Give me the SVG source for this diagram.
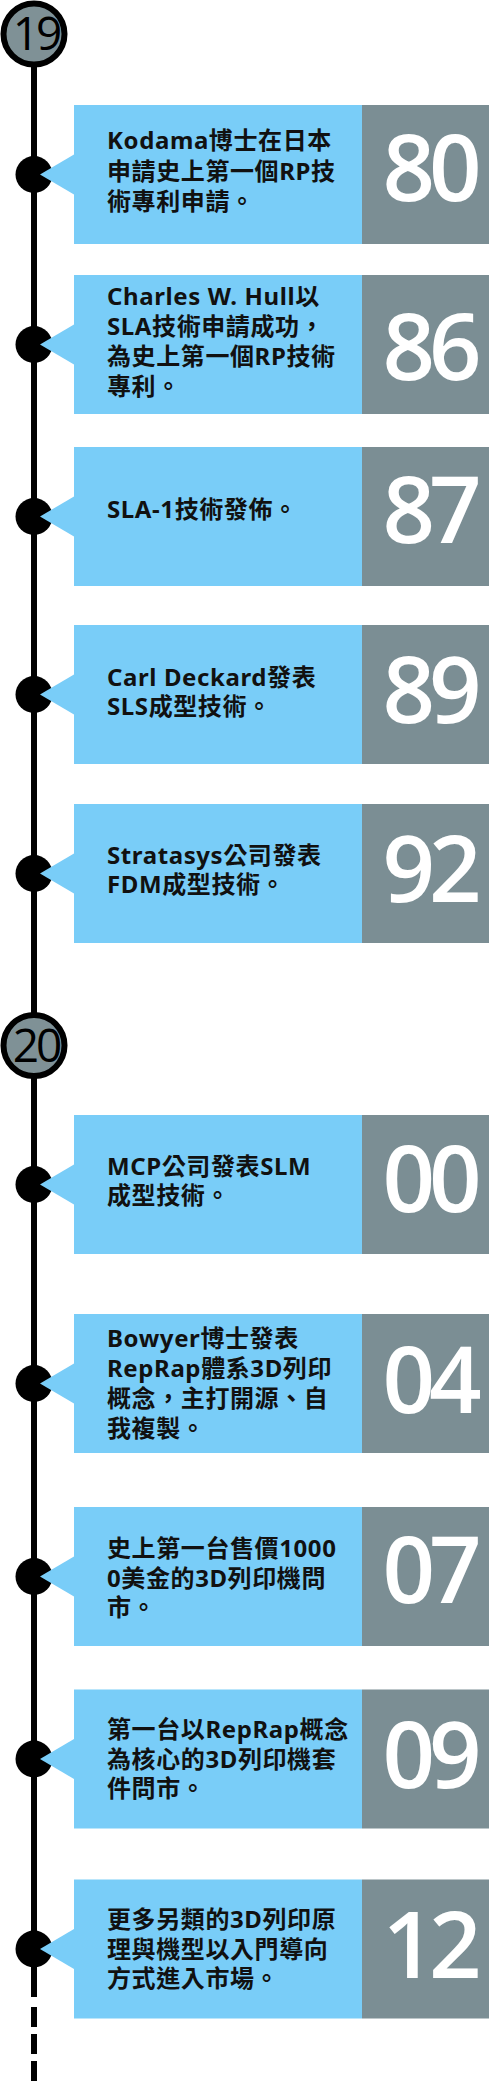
<svg xmlns="http://www.w3.org/2000/svg" width="494" height="2093" viewBox="0 0 494 2093">
<style>
.blue{fill:#79cdf8}
.gray{fill:#7b8e94}
.dot{fill:#000}
.t{font-family:"Noto Sans","Noto Sans CJK TC",sans-serif;font-weight:700;font-size:24px;letter-spacing:0.6px;fill:#111}
.yr{font-family:"Open Sans","Noto Sans",sans-serif;font-weight:600;font-size:92px;fill:#fff;text-anchor:middle;letter-spacing:-6px}
.era circle{fill:#7f9196;stroke:#000;stroke-width:6}
.era text{font-family:"Open Sans","Noto Sans",sans-serif;font-size:46px;fill:#000;text-anchor:middle;letter-spacing:-3px}
</style>
<defs>
<g id="node">
<circle class="dot" cx="34" cy="0" r="18.5"/>
<rect class="blue" x="74" y="-69.5" width="288" height="139"/>
<polygon class="blue" points="74,-20 40,0 74,20"/>
<rect class="gray" x="362" y="-69.5" width="127" height="139"/>
</g>
</defs>
<g id="connectors">
<line x1="34" y1="40" x2="34" y2="1997" stroke="#000" stroke-width="6"/>
<line x1="34" y1="2007" x2="34" y2="2085" stroke="#000" stroke-width="6" stroke-dasharray="20 7"/>
</g>
<g id="era19" class="era"><circle cx="34" cy="34" r="30.5"/><text x="36" y="50">19</text></g>
<g id="era20" class="era"><circle cx="34" cy="1045.5" r="30.5"/><text x="36" y="1062">20</text></g>

<g id="y80"><use href="#node" y="174.5"/>
<text class="t" x="107"><tspan x="107" y="149">Kodama博士在日本</tspan><tspan x="107" y="180">申請史上第一個RP技</tspan><tspan x="107" y="210">術專利申請。</tspan></text>
<text class="yr" x="429" y="201">80</text></g>

<g id="y86"><use href="#node" y="344.5"/>
<text class="t"><tspan x="107" y="305">Charles W. Hull以</tspan><tspan x="107" y="335">SLA技術申請成功，</tspan><tspan x="107" y="365">為史上第一個RP技術</tspan><tspan x="107" y="395">專利。</tspan></text>
<text class="yr" x="429" y="380">86</text></g>

<g id="y87"><use href="#node" y="516.5"/>
<text class="t" x="107" y="518">SLA-1技術發佈。</text>
<text class="yr" x="429" y="543">87</text></g>

<g id="y89"><use href="#node" y="694.5"/>
<text class="t"><tspan x="107" y="686">Carl Deckard發表</tspan><tspan x="107" y="715">SLS成型技術。</tspan></text>
<text class="yr" x="429" y="723">89</text></g>

<g id="y92"><use href="#node" y="873.5"/>
<text class="t"><tspan x="107" y="864">Stratasys公司發表</tspan><tspan x="107" y="893">FDM成型技術。</tspan></text>
<text class="yr" x="429" y="902">92</text></g>

<g id="y00"><use href="#node" y="1184.5"/>
<text class="t"><tspan x="107" y="1175">MCP公司發表SLM</tspan><tspan x="107" y="1204">成型技術。</tspan></text>
<text class="yr" x="429" y="1212">00</text></g>

<g id="y04"><use href="#node" y="1383.5"/>
<text class="t"><tspan x="107" y="1347">Bowyer博士發表</tspan><tspan x="107" y="1377">RepRap體系3D列印</tspan><tspan x="107" y="1407">概念，主打開源、自</tspan><tspan x="107" y="1437">我複製。</tspan></text>
<text class="yr" x="429" y="1413">04</text></g>

<g id="y07"><use href="#node" y="1576.5"/>
<text class="t"><tspan x="107" y="1557">史上第一台售價1000</tspan><tspan x="107" y="1587">0美金的3D列印機問</tspan><tspan x="107" y="1616">市。</tspan></text>
<text class="yr" x="429" y="1603">07</text></g>

<g id="y09"><use href="#node" y="1759"/>
<text class="t"><tspan x="107" y="1738">第一台以RepRap概念</tspan><tspan x="107" y="1768">為核心的3D列印機套</tspan><tspan x="107" y="1797">件問市。</tspan></text>
<text class="yr" x="429" y="1788">09</text></g>

<g id="y12"><use href="#node" y="1949"/>
<text class="t"><tspan x="107" y="1928">更多另類的3D列印原</tspan><tspan x="107" y="1958">理與機型以入門導向</tspan><tspan x="107" y="1987">方式進入市場。</tspan></text>
<text class="yr" x="429" y="1978">12</text></g>
</svg>
